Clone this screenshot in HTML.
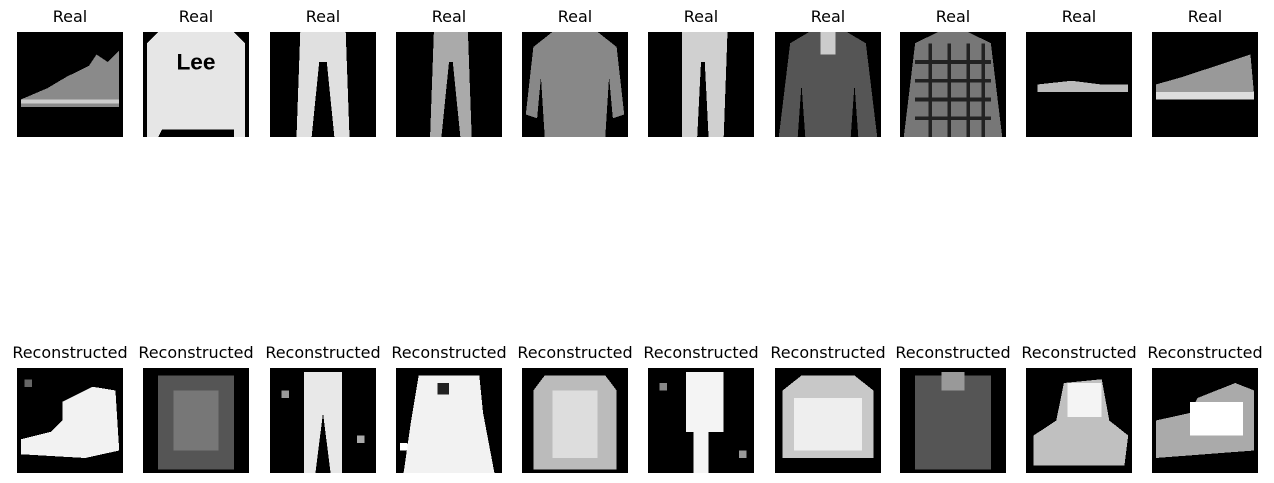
<!DOCTYPE html>
<html><head><meta charset="utf-8"><style>
body{margin:0;background:#fff;width:1274px;height:483px;overflow:hidden;font-family:"DejaVu Sans","Liberation Sans",sans-serif}
.t{position:absolute;font-size:16px;line-height:20px;text-align:center;width:160px;color:#000;font-family:"DejaVu Sans","Liberation Sans",sans-serif}
svg.im{position:absolute;width:106px;height:105px;shape-rendering:crispEdges}
</style></head><body>
<div id="root"></div>
<script>
const lefts=[17,143,270,396,522,648,775,900,1026,1152];
const real=[
'<polygon points="1,18 8,15 13,12 19,9 21,6 24,8 27,5 27,20 1,20" fill="#8a8a8a"/><rect x="1" y="18" width="26" height="1" fill="#ccc"/>',
'<polygon points="4,0 24,0 27,3 27,28 24,28 24,26 5,26 4,28 1,28 1,3" fill="#e6e6e6"/><text x="14" y="10" font-size="6" font-weight="bold" text-anchor="middle" fill="#000" font-family="Liberation Sans">Lee</text>',
'<polygon points="8,0 20,0 21,28 17,28 15,8 13,8 11,28 7,28" fill="#e0e0e0"/>',
'<polygon points="10,0 19,0 20,28 17,28 15,8 14,8 12,28 9,28" fill="#aaa"/>',
'<polygon points="8,0 20,0 25,4 27,22 24,23 23,12 22,28 6,28 5,12 4,23 1,22 3,4" fill="#888"/>',
'<polygon points="9,0 21,0 20,28 16,28 15,8 14,8 13,28 9,28" fill="#d0d0d0"/>',
'<polygon points="9,0 19,0 24,3 27,28 22,28 21,14 20,28 8,28 7,14 6,28 1,28 4,3" fill="#555"/><rect x="12" y="0" width="4" height="6" fill="#ccc"/>',
'<polygon points="10,0 18,0 24,3 27,28 1,28 4,3" fill="#777"/><path d="M4 8H24M4 13H24M4 18H24M4 23H24M8 3V28M13 3V28M18 3V28M22 3V28" stroke="#222" stroke-width="1"/>',
'<polygon points="3,14 12,13 20,14 27,14 27,16 3,16" fill="#bbb"/>',
'<polygon points="1,14 8,12 14,10 20,8 26,6 27,17 1,18" fill="#999"/><rect x="1" y="16" width="26" height="2" fill="#ddd"/>'
];
const rec=[
'<polygon points="12,9 20,5 26,6 27,22 18,24 1,23 1,19 9,17 12,14" fill="#f2f2f2"/><rect x="2" y="3" width="2" height="2" fill="#666"/>',
'<rect x="4" y="2" width="20" height="25" fill="#555"/><rect x="8" y="6" width="12" height="16" fill="#777"/>',
'<polygon points="9,1 19,1 19,28 16,28 14,12 12,28 9,28" fill="#e8e8e8"/><rect x="3" y="6" width="2" height="2" fill="#999"/><rect x="23" y="18" width="2" height="2" fill="#aaa"/>',
'<polygon points="6,2 22,2 23,12 26,28 2,28 4,14" fill="#f2f2f2"/><rect x="11" y="4" width="3" height="3" fill="#222"/><rect x="1" y="20" width="2" height="2" fill="#fff"/>',
'<polygon points="6,2 22,2 25,6 25,27 3,27 3,6" fill="#bbb"/><rect x="8" y="6" width="12" height="18" fill="#ddd"/>',
'<polygon points="10,1 20,1 20,17 16,17 16,28 12,28 12,17 10,17" fill="#f4f4f4"/><rect x="3" y="4" width="2" height="2" fill="#888"/><rect x="24" y="22" width="2" height="2" fill="#999"/>',
'<polygon points="7,2 21,2 26,6 26,24 2,24 2,6" fill="#c8c8c8"/><rect x="5" y="8" width="18" height="14" fill="#eee"/>',
'<rect x="4" y="2" width="20" height="25" fill="#555"/><rect x="11" y="1" width="6" height="5" fill="#999"/>',
'<polygon points="10,4 20,3 22,14 27,18 26,26 2,26 2,18 8,14" fill="#c0c0c0"/><rect x="11" y="4" width="9" height="9" fill="#f4f4f4"/>',
'<polygon points="12,8 22,4 27,6 27,22 1,24 1,14 10,12" fill="#aaa"/><rect x="10" y="9" width="14" height="9" fill="#fff"/>'
];
const root=document.getElementById('root');
lefts.forEach((x,i)=>{
  [[real,'Real',32,7,'real'],[rec,'Reconstructed',368,343,'reconstructed']].forEach(([arr,label,y,ty,kind])=>{
    const t=document.createElement('div');
    t.className='t';t.textContent=label;
    t.style.left=(x+53-80)+'px';t.style.top=ty+'px';
    
    
    root.appendChild(t);
    const d=document.createElement('div');
    d.innerHTML='<svg class="im" viewBox="0 0 28 28" preserveAspectRatio="none"><rect width="28" height="28" fill="#000"/>'+arr[i]+'</svg>';
    const s=d.firstChild;
    s.style.left=x+'px';s.style.top=y+'px';
    
    
    root.appendChild(s);
  });
});
</script>
</body></html>
